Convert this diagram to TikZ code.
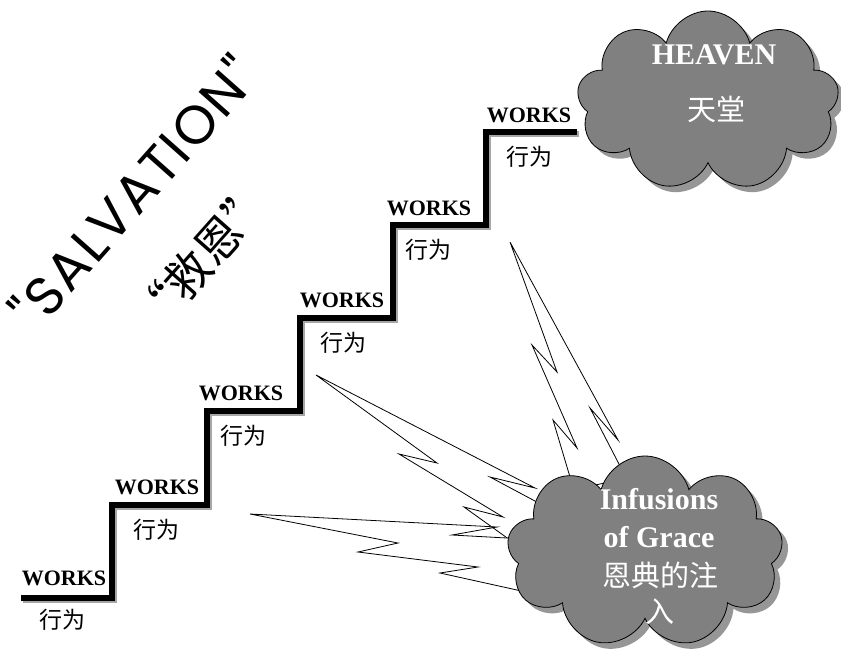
\documentclass[tikz,border=0pt]{standalone}
\usepackage{fontspec}
\setmainfont{Liberation Serif}
\newfontfamily\cjk{Noto Sans CJK SC}
\newfontfamily\comic[LetterSpace=4]{Poppins}
\usetikzlibrary{shapes.symbols,shadows}
\definecolor{cloudgray}{RGB}{128,128,128}
\definecolor{shadowgray}{RGB}{150,150,150}
\tikzset{
  works/.style={font=\bfseries\fontsize{22}{24}\selectfont, inner sep=0pt},
  deed/.style={font=\cjk\fontsize{23}{26}\selectfont, inner sep=0pt},
  stair/.style={line width=5.5pt, line join=miter, line cap=butt},
  stairshadow/.style={line width=5.5pt, line join=miter, draw=gray!70},
  bolt/.style={draw=black, fill=white, line width=0.8pt, line join=miter},
  cloudbox/.style={cloud, cloud puffs=9, cloud ignores aspect, draw=black,
    line width=0.8pt, fill=cloudgray,
    drop shadow={shadow xshift=6pt, shadow yshift=-6pt, fill=shadowgray, opacity=1}},
  cloudtxt/.style={text=white, font=\bfseries\fontsize{30}{32}\selectfont, inner sep=0pt},
  cloudcjk/.style={text=white, font=\cjk\fontsize{29}{32}\selectfont, inner sep=0pt}
}
\begin{document}
\begin{tikzpicture}[x=1pt, y=-1pt]
\useasboundingbox (0,0) rectangle (841,651);

% title
\node[rotate=48.5, font=\comic\fontsize{54}{58}\selectfont, inner sep=0pt] (title) at (133,192) {"SALVATION"};
\node[rotate=48.5, font=\cjk\fontsize{46}{50}\selectfont, inner sep=0pt] (titlecn) at (203,257) {“救恩”};

% staircase
\draw[stairshadow] (23,600) -- (114,600) -- (114,507) -- (209,507) -- (209,413) -- (302,413)
  -- (302,320) -- (395,320) -- (395,227) -- (488,227) -- (488,134) -- (579,134);
\draw[stair] (21,598) -- (112,598) -- (112,505) -- (207,505) -- (207,411) -- (300,411)
  -- (300,318) -- (393,318) -- (393,225) -- (486,225) -- (486,132) -- (577,132);

% labels
\node[works] (w1) at (64,578) {WORKS};
\node[deed]  (d1) at (62,620) {行为};
\node[works] (w2) at (157,487) {WORKS};
\node[deed]  (d2) at (156,530) {行为};
\node[works] (w3) at (241,393) {WORKS};
\node[deed]  (d3) at (243,436) {行为};
\node[works] (w4) at (342,300) {WORKS};
\node[deed]  (d4) at (343,343) {行为};
\node[works] (w5) at (429,208) {WORKS};
\node[deed]  (d5) at (428,250) {行为};
\node[works] (w6) at (529,115) {WORKS};
\node[deed]  (d6) at (529,157) {行为};

% lightning bolts
\draw[bolt] (316,375) -- (535,488) -- (490,477) -- (548,508) -- (522,548)
  -- (510,540) -- (464,507) -- (503,517) -- (399,454) -- (437,463) -- cycle;
\draw[bolt] (250,514) -- (497,527) -- (452,535) -- (525,539) -- (530,594)
  -- (517,590) -- (440,573) -- (478,567) -- (358,552) -- (398,543) -- cycle;
\draw[bolt] (510,242) -- (557,372) -- (532,345) -- (577,448) -- (553,420) -- (570,477)
  -- (574,490) -- (626,478) -- (620,466) -- (590,408) -- (618,440) -- cycle;

% clouds
\node[cloudbox, minimum width=262pt, minimum height=180pt] (heaven) at (708,101) {};
\node[cloudtxt] (heaventxt) at (714,55) {HEAVEN};
\node[cloudcjk] (heavencn) at (716,109) {天堂};

\node[cloudbox, minimum width=276pt, minimum height=192pt] (grace) at (645,552) {};
\node[cloudtxt] (g1) at (659,499) {Infusions};
\node[cloudtxt] (g2) at (659,537) {of Grace};
\node[cloudcjk] (g3) at (660,575) {恩典的注};
\node[cloudcjk] (g4) at (660,612) {入};
\end{tikzpicture}
\end{document}
